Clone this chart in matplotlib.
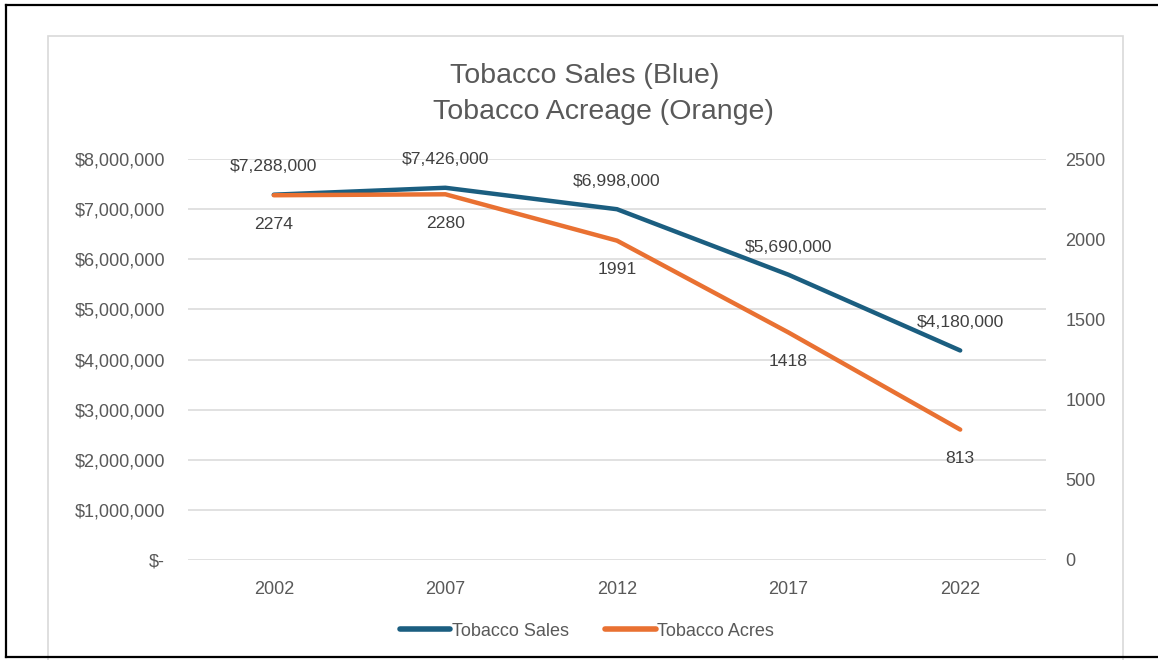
import matplotlib
matplotlib.use("Agg")
import matplotlib.pyplot as plt
from matplotlib.lines import Line2D
from matplotlib.patches import Rectangle
from matplotlib.ticker import FuncFormatter

years = ["2002", "2007", "2012", "2017", "2022"]
sales = [7288000, 7426000, 6998000, 5690000, 4180000]
acres = [2274, 2280, 1991, 1418, 813]
sales_ticks = [0, 1000000, 2000000, 3000000, 4000000, 5000000, 6000000, 7000000, 8000000]
acre_ticks = [0, 500, 1000, 1500, 2000, 2500]

BLUE = "#1b5e80"
ORANGE = "#e97132"
TEXT = "#595959"
LABEL = "#404040"
GRID = "#d9d9d9"

plt.rcParams["font.family"] = ["Liberation Sans", "DejaVu Sans"]

W, H = 1158, 660
fig = plt.figure(figsize=(W / 100, H / 100), dpi=100)

def fx(px):
    return px / W

def fy(py):
    return 1 - py / H

# Chart area border and outer frame
fig.patches.append(Rectangle((fx(48), fy(700)), fx(1123) - fx(48), fy(36) - fy(700),
                             transform=fig.transFigure, fill=False, edgecolor=GRID, lw=1.2))
for xs, ys in [([6, 1158], [5, 5]), ([6, 6], [5, 657]), ([6, 1158], [657, 657])]:
    fig.add_artist(Line2D([fx(x) for x in xs], [fy(y) for y in ys],
                          transform=fig.transFigure, color="black", lw=1.6))

ax = fig.add_axes([fx(188), fy(560), fx(1046) - fx(188), fy(159) - fy(560)])
ax2 = ax.twinx()

x = list(range(len(years)))
ax.set_xlim(-0.5, len(years) - 0.5)
ax.set_ylim(0, 8000000)
ax2.set_ylim(0, 2500)

ax.set_yticks(sales_ticks)
ax2.set_yticks(acre_ticks)
ax.set_xticks(x)
ax.set_xticklabels(years)

def money(v, pos):
    return "$-" if v == 0 else f"${v:,.0f}"

ax.yaxis.set_major_formatter(FuncFormatter(money))

ax.grid(axis="y", color=GRID, lw=1.1)
ax.set_axisbelow(True)
TICK_FS = 13
for a in (ax, ax2):
    for s in a.spines.values():
        s.set_visible(False)
    a.tick_params(length=0, labelsize=TICK_FS, labelcolor=TEXT)
ax.tick_params(axis="y", pad=16.5)
ax.tick_params(axis="x", pad=15)
ax2.tick_params(axis="y", pad=14)

ax.plot(x, sales, color=BLUE, lw=3.2, solid_capstyle="round", zorder=3)
ax2.plot(x, acres, color=ORANGE, lw=3.2, solid_capstyle="round", zorder=3)

LABEL_FS = 12.6
for xi, v in zip(x, sales):
    ax.annotate(f"${v:,.0f}", (xi, v), xytext=(0, 20), textcoords="offset points",
                ha="center", va="center", fontsize=LABEL_FS, color=LABEL)
for xi, v in zip(x, acres):
    ax2.annotate(f"{v}", (xi, v), xytext=(0, -21), textcoords="offset points",
                 ha="center", va="center", fontsize=LABEL_FS, color=LABEL)

fig.text(fx(585), fy(76), "Tobacco Sales (Blue)", ha="center", va="center",
         fontsize=20.5, color=TEXT)
fig.text(fx(603), fy(112), "Tobacco Acreage (Orange)", ha="center", va="center",
         fontsize=20.5, color=TEXT)

handles = [Line2D([], [], color=BLUE, lw=4, solid_capstyle="round"),
           Line2D([], [], color=ORANGE, lw=4, solid_capstyle="round")]
fig.legend(handles, ["Tobacco Sales", "Tobacco Acres"], loc="center",
           bbox_to_anchor=(fx(587), fy(631)), ncol=2, frameon=False,
           fontsize=TICK_FS, labelcolor=TEXT, handlelength=2.8, handletextpad=0.1,
           columnspacing=2.0)

fig.savefig("out.png", dpi=100, facecolor="white")
